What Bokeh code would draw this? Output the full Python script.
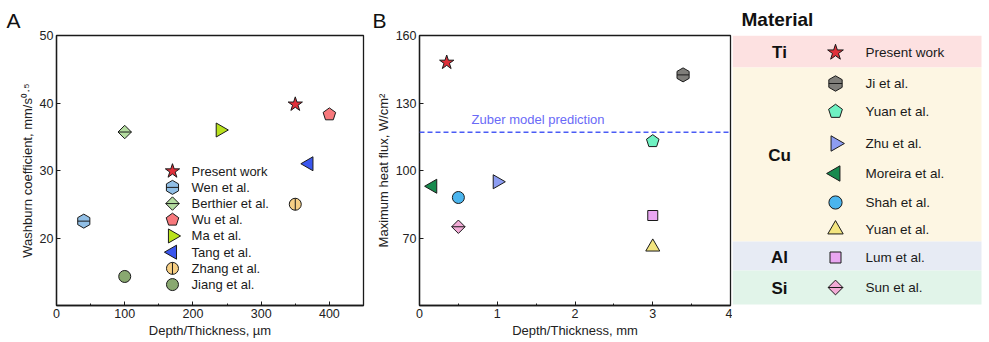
import numpy as np
from bokeh.plotting import figure
from bokeh.layouts import row
from bokeh.models import Range1d, FixedTicker, Span, Label
from bokeh.core.properties import value
from bokeh.embed import file_html
from bokeh.resources import INLINE

FONT = "Liberation Sans"
INK = "#1a1a1a"

# ---------------- Panel A data ----------------
a_labels = ["Present work", "Wen et al.", "Berthier et al.", "Wu et al.",
            "Ma et al.", "Tang et al.", "Zhang et al.", "Jiang et al."]
a_depth_um = [350, 40, 100, 400, 240, 370, 350, 100]
a_washburn = [39.8, 22.5, 35.7, 38.3, 36.0, 31.0, 25.0, 14.3]
a_shapes = ["star", "hex", "diamond", "pentagon", "tri_right", "tri_left", "circle", "circle"]
a_bars = ["", "h", "h", "", "", "", "v", ""]
a_colors = ["#e0303a", "#91bfe6", "#b4dca0", "#f7787c", "#b9e21d", "#3a56ee", "#f7cf84", "#89a870"]
a_xticks = [0, 100, 200, 300, 400]
a_xminor = [50, 150, 250, 350, 450]
a_yticks = [20, 30, 40, 50]

# ---------------- Panel B data ----------------
b_labels = ["Present work", "Ji et al.", "Yuan et al.", "Zhu et al.", "Moreira et al.",
            "Shah et al.", "Yuan et al.", "Lum et al.", "Sun et al."]
b_materials = ["Ti", "Cu", "Cu", "Cu", "Cu", "Cu", "Cu", "Al", "Si"]
b_depth_mm = [0.35, 3.39, 3.0, 1.0, 0.17, 0.5, 3.0, 3.0, 0.5]
b_chf = [148, 142.5, 113, 95, 93, 88, 66, 80, 75]
b_shapes = ["star", "hex", "pentagon", "tri_right", "tri_left", "circle", "tri_up", "square", "diamond"]
b_bars = ["", "h", "", "", "", "", "", "", "h"]
b_colors = ["#e0303a", "#7f7e7a", "#6ff2c2", "#8d9df2", "#178a4e", "#4bb5ee", "#f3e57f", "#e9a6f2", "#f2abd6"]
zuber_chf = 117
b_xticks = [0, 1, 2, 3, 4]
b_xminor = [0.5, 1.5, 2.5, 3.5]
b_yticks = [70, 100, 130, 160]

material_names = ["Ti", "Cu", "Al", "Si"]
material_colors = ["#fde1e1", "#fdf6e3", "#e7ebf4", "#e1f4e9"]

# marker sizes (style)
SIZES = {"star": 15, "hex": 14, "diamond": 9.5, "pentagon": 6.6, "tri_right": 14,
         "tri_left": 14, "tri_up": 14, "circle": 12, "square": 10}


def draw_marker(p, x, y, shape, color, bar, scale=1.0):
    s = SIZES[shape] * scale
    common = dict(fill_color=color, line_color=INK, line_width=1)
    w = s
    if shape == "pentagon":
        p.ngon(x=x, y=y, radius=s, radius_units="screen", n=5, angle=0, **common)
        w = 1.9 * s
    elif shape == "hex":
        p.scatter(x=x, y=y, marker="hex", size=s, angle=np.pi / 2, **common)
        w = 0.866 * s
    elif shape == "diamond":
        p.scatter(x=x, y=y, marker="square", size=s, angle=np.pi / 4, **common)
        w = 1.414 * s
    elif shape == "tri_right":
        p.scatter(x=x, y=y, marker="triangle", size=s, angle=-np.pi / 2, **common)
    elif shape == "tri_left":
        p.scatter(x=x, y=y, marker="triangle", size=s, angle=np.pi / 2, **common)
    elif shape == "tri_up":
        p.scatter(x=x, y=y, marker="triangle", size=s, **common)
    else:
        p.scatter(x=x, y=y, marker=shape, size=s, **common)
    if bar == "h":
        p.scatter(x=x, y=y, marker="dash", size=w, line_color=INK, line_width=1)
    elif bar == "v":
        p.scatter(x=x, y=y, marker="dash", size=w, angle=np.pi / 2, line_color=INK, line_width=1)


def style_axes(p, xticks, xminor, yticks, xlabel, ylabel):
    p.xaxis.ticker = FixedTicker(ticks=xticks, minor_ticks=xminor)
    p.yaxis.ticker = FixedTicker(ticks=yticks, minor_ticks=[])
    p.xaxis.axis_label = xlabel
    p.yaxis.axis_label = ylabel
    for ax in (p.xaxis[0], p.yaxis[0]):
        ax.major_tick_in = 4
        ax.major_tick_out = 0
        ax.minor_tick_in = 2
        ax.minor_tick_out = 0
        ax.major_tick_line_color = INK
        ax.minor_tick_line_color = INK
        ax.axis_line_color = INK
        ax.axis_line_width = 1.3
        ax.major_label_text_font = FONT
        ax.major_label_text_font_size = "12.5px"
        ax.major_label_text_color = "#222222"
        ax.axis_label_text_font = FONT
        ax.axis_label_text_font_size = "13px"
        ax.axis_label_text_font_style = "normal"
        ax.axis_label_text_color = "#222222"
        ax.major_label_standoff = 3
        ax.axis_label_standoff = 2
    p.grid.visible = False
    p.outline_line_color = INK
    p.outline_line_width = 1.3
    p.outline_line_alpha = 1.0


def panel_title(p, text, offset, size="21px", style="normal", standoff=5):
    p.title.text = text
    p.title.text_font = FONT
    p.title.text_font_size = size
    p.title.text_font_style = style
    p.title.text_color = "#111111"
    p.title.align = "left"
    p.title.offset = offset
    p.title.standoff = standoff


# ---------------- Panel A ----------------
pA = figure(width=370, height=342, x_range=Range1d(0, 450), y_range=Range1d(10, 50),
            output_backend="svg", toolbar_location=None,
            min_border_left=56, min_border_right=7, min_border_top=35, min_border_bottom=37)
style_axes(pA, a_xticks, a_xminor, a_yticks, "Depth/Thickness, \u00b5m",
           "Washburn coefficient, mm/s\u2070\u00b7\u2075")
panel_title(pA, "A", -50, standoff=7)

for i in range(len(a_labels)):
    draw_marker(pA, [a_depth_um[i]], [a_washburn[i]], a_shapes[i], a_colors[i], a_bars[i])

# in-plot legend (layout positions in data units)
a_leg_marker_x = 170
a_leg_text_x = 198
a_leg_top = 29.9
a_leg_step = 2.4
a_leg_y = [a_leg_top - i * a_leg_step for i in range(len(a_labels))]
for i in range(len(a_labels)):
    draw_marker(pA, [a_leg_marker_x], [a_leg_y[i]], a_shapes[i], a_colors[i], a_bars[i])
pA.text(x=[a_leg_text_x] * len(a_labels), y=a_leg_y, text=a_labels,
        text_baseline="middle", text_align="left", text_font=value(FONT),
        text_font_size="13px", text_color=INK)

# ---------------- Panel B ----------------
pB = figure(width=362, height=342, x_range=Range1d(0, 4), y_range=Range1d(40, 160),
            output_backend="svg", toolbar_location=None,
            min_border_left=49, min_border_right=2, min_border_top=35, min_border_bottom=37)
style_axes(pB, b_xticks, b_xminor, b_yticks, "Depth/Thickness, mm",
           "Maximum heat flux, W/cm\u00b2")
panel_title(pB, "B", -47, standoff=7)

pB.add_layout(Span(location=zuber_chf, dimension="width", line_color="#4b5cf5",
                   line_dash="5 3", line_width=1.3))
pB.add_layout(Label(x=0.67, y=zuber_chf + 5.6, text="Zuber model prediction",
                    text_color="#6a6af7", text_font=FONT, text_font_size="13px",
                    text_baseline="middle"))

for i in range(len(b_labels)):
    draw_marker(pB, [b_depth_mm[i]], [b_chf[i]], b_shapes[i], b_colors[i], b_bars[i])

# ---------------- Legend panel (C) ----------------
# frame is aligned with the other panels (global rows 35..305); y range in page pixels
pC = figure(width=257, height=342, x_range=Range1d(0, 257), y_range=Range1d(305, 35),
            output_backend="svg", toolbar_location=None,
            min_border_left=0, min_border_right=0, min_border_top=35, min_border_bottom=37,
            x_axis_location=None, y_axis_location=None)
pC.grid.visible = False
pC.outline_line_color = None
panel_title(pC, "Material", 9, size="19px", style="bold", standoff=11)

# layout (pixels)
c_band_edges = [35, 67, 241, 270, 304]
c_row_y = [52, 83, 111, 143, 173, 202, 229, 257, 287]
c_band_right = 249
c_group_x = 47
c_marker_x = 103
c_text_x = 133

pC.quad(left=0, right=c_band_right, top=c_band_edges[:-1], bottom=c_band_edges[1:],
        fill_color=material_colors, line_color=None)
group_y = [(c_band_edges[k] + c_band_edges[k + 1]) / 2 + 1 for k in range(len(material_names))]
group_y[0] = c_row_y[0]
pC.text(x=[c_group_x] * len(material_names), y=group_y, text=material_names,
        text_align="center", text_baseline="middle", text_font=value(FONT),
        text_font_style="bold", text_font_size="17px", text_color="#111111")
for i in range(len(b_labels)):
    draw_marker(pC, [c_marker_x], [c_row_y[i]], b_shapes[i], b_colors[i], b_bars[i], scale=1.1)
pC.text(x=[c_text_x] * len(b_labels), y=c_row_y, text=b_labels,
        text_align="left", text_baseline="middle", text_font=value(FONT),
        text_font_size="13.5px", text_color=INK)

layout = row(pA, pB, pC)
open("out.html", "w").write(file_html(layout, INLINE))
